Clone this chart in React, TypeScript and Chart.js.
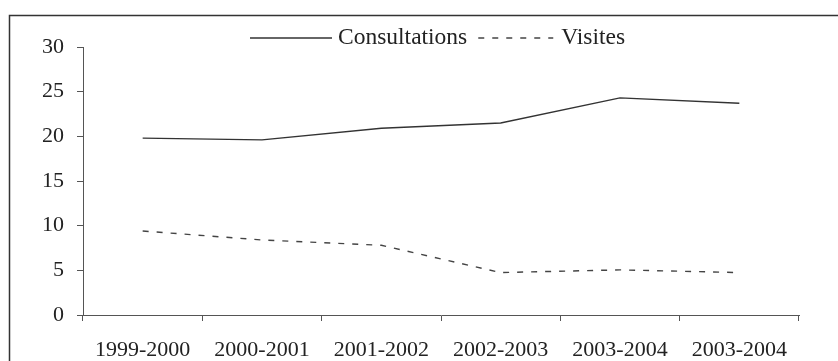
import React, { useEffect, useRef } from "react";
import { Chart, registerables } from "chart.js";

Chart.register(...registerables);

const categories = ["1999-2000", "2000-2001", "2001-2002", "2002-2003", "2003-2004", "2003-2004"];
const consultations = [19.8, 19.6, 20.9, 21.5, 24.3, 23.7];
const visites = [9.4, 8.4, 7.8, 4.75, 5.05, 4.75];
const seriesLabels = ["Consultations", "Visites"];
const yTicks = { min: 0, max: 30, step: 5 };

const FONT = '"Liberation Serif", "Times New Roman", serif';
const TEXT = "#222";
const AXIS = "#555";

const framePlugin = {
  id: "frame",
  afterDraw(chart: any) {
    const ctx = chart.ctx;
    ctx.save();
    ctx.strokeStyle = "#333";
    ctx.lineWidth = 1.5;
    ctx.setLineDash([]);
    ctx.beginPath();
    ctx.moveTo(9.5, chart.height);
    ctx.lineTo(9.5, 15.5);
    ctx.lineTo(chart.width, 15.5);
    ctx.stroke();
    ctx.restore();
  },
};

const legendPlugin = {
  id: "customLegend",
  afterDraw(chart: any) {
    const ctx = chart.ctx;
    const sampleW = [82, 75];
    const textGap = [6, 8];
    ctx.save();
    ctx.font = `23.5px ${FONT}`;
    ctx.textBaseline = "middle";
    ctx.textAlign = "left";
    let x = 250;
    const y = 38;
    chart.data.datasets.forEach((ds: any, i: number) => {
      ctx.strokeStyle = ds.borderColor;
      ctx.lineWidth = ds.borderWidth;
      ctx.setLineDash(ds.borderDash || []);
      ctx.beginPath();
      ctx.moveTo(x, y);
      ctx.lineTo(x + sampleW[i], y);
      ctx.stroke();
      x += sampleW[i] + textGap[i];
      ctx.setLineDash([]);
      ctx.fillStyle = TEXT;
      ctx.fillText(ds.label, x, y);
      x += ctx.measureText(ds.label).width + 11;
    });
    ctx.restore();
  },
};

export default function App() {
  const ref = useRef<HTMLCanvasElement>(null);
  useEffect(() => {
    if (!ref.current) return;
    const chart = new Chart(ref.current, {
      type: "line",
      data: {
        labels: categories,
        datasets: [
          {
            label: seriesLabels[0],
            data: consultations,
            borderColor: "#333",
            borderWidth: 1.4,
            pointRadius: 0,
            tension: 0,
            fill: false,
          },
          {
            label: seriesLabels[1],
            data: visites,
            borderColor: "#444",
            borderWidth: 1.4,
            borderDash: [6, 8],
            pointRadius: 0,
            tension: 0,
            fill: false,
          },
        ],
      },
      options: {
        responsive: false,
        animation: false,
        layout: { padding: { top: 47, right: 39, left: 0, bottom: 0 } },
        plugins: { legend: { display: false }, tooltip: { enabled: false } },
        scales: {
          x: {
            offset: true,
            grid: { offset: true, drawOnChartArea: false, drawTicks: true, tickLength: 6, color: AXIS },
            border: { color: AXIS, width: 1 },
            ticks: { color: TEXT, font: { family: FONT, size: 22 }, padding: 16, maxRotation: 0, autoSkip: false },
            afterFit: (s: any) => {
              s.height = 46;
            },
          },
          y: {
            min: yTicks.min,
            max: yTicks.max,
            grid: { drawOnChartArea: false, drawTicks: true, tickLength: 6, color: AXIS },
            border: { color: AXIS, width: 1 },
            ticks: { stepSize: yTicks.step, color: TEXT, font: { family: FONT, size: 22 }, padding: 13 },
            afterFit: (s: any) => {
              s.width = 83;
            },
          },
        },
      },
      plugins: [framePlugin, legendPlugin],
    });
    return () => chart.destroy();
  }, []);
  return (
    <div style={{ position: "absolute", left: 0, top: 0, width: 838, height: 361, background: "#fff" }}>
      <canvas ref={ref} width={838} height={361} />
    </div>
  );
}
